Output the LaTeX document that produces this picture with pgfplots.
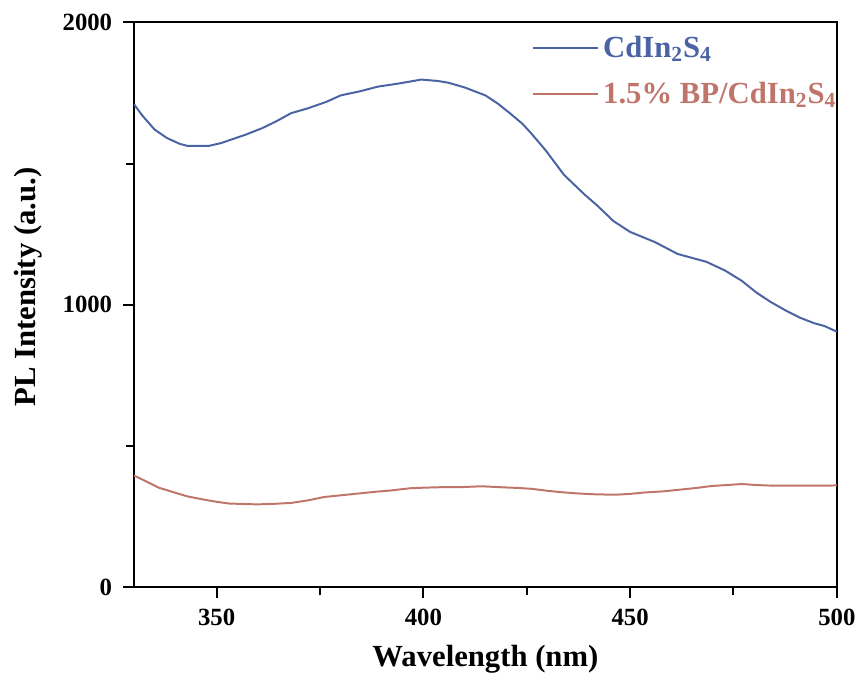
\documentclass[border=0pt]{standalone}
\usepackage{fontspec}
\setmainfont{Liberation Serif}
\usepackage{pgfplots}
\pgfplotsset{compat=1.18}

\definecolor{cdblue}{RGB}{74,99,163}
\definecolor{bpred}{RGB}{192,117,106}

\begin{document}
\begin{tikzpicture}
\begin{axis}[
scale only axis,
width=355pt,
height=285.5pt,
xmin=330, xmax=500,
ymin=0, ymax=2000,
xtick={350,400,450,500},
ytick={0,1000,2000},
minor xtick={375,425,475},
minor ytick={500,1500},
tick align=outside,
xtick pos=bottom,
ytick pos=left,
major tick length=5.5pt,
minor tick length=4pt,
axis line style={line width=1pt},
every tick/.style={black, line width=1pt},
/pgf/number format/assume math mode=true,
/pgf/number format/set thousands separator={},
ticklabel style={font=\fontsize{12.5}{15}\selectfont\bfseries},
xticklabel style={yshift=-2pt},
yticklabel style={xshift=-2pt, inner ysep=7pt},
xlabel={Wavelength (nm)},
ylabel={PL Intensity (a.u.)},
label style={font=\fontsize{15.5}{19}\selectfont\bfseries},
xlabel style={yshift=-3pt},
ylabel style={inner ysep=7pt, yshift=0pt, xshift=9pt},
legend cell align=left,
legend style={draw=none, fill=none, at={(1.005,0.99)}, anchor=north east,
  inner xsep=0pt, outer xsep=0pt,
  font=\fontsize{15.5}{18}\selectfont\bfseries, row sep=7pt},
legend image code/.code={\draw[#1] (0cm,0cm) -- (1.15cm,0cm);},
]

% CdIn2S4
\addplot[cdblue, line width=1pt] coordinates {
(330,1710) (332,1670) (335,1620) (338,1590) (341,1570) (343,1562)
(348,1562) (351,1572) (354,1587) (357,1602) (361,1625) (364.5,1650)
(368,1678) (372,1695) (376.5,1718) (380,1741) (384.5,1755) (389,1772)
(394,1783) (399.5,1797) (403.5,1792) (406,1786) (410,1769) (415,1741)
(418,1712) (421,1677) (424,1640) (426,1608) (429.5,1548) (434,1460)
(439,1390) (442,1352) (446,1296) (450,1258) (456,1222) (461.5,1180)
(468.5,1152) (473,1121) (477,1085) (480.5,1044) (484,1010) (488,977)
(491,955) (494.5,935) (497,925) (500,905)
};

% 1.5% BP/CdIn2S4
\addplot[bpred, line width=1pt] coordinates {
(330,396) (333,375) (336,353) (340,335) (343,322) (346.5,312)
(350,303) (353,297) (357,295) (360,294) (364,296) (368,299)
(372,308) (376,320) (380,326) (384,332) (388,338) (392,343)
(396.8,351) (400,353) (404.8,355) (409,355) (414,358) (419.7,354)
(423,352) (426.2,349) (430,342) (433.4,337) (437,333) (440.7,330)
(446.3,328) (450,331) (453.5,336) (458,340) (463.3,348) (466,352)
(469.7,359) (473,362) (477,366) (480,363) (482.7,361) (486,360)
(490,360) (493,360) (496.4,360) (500,361)
};

\legend{\textcolor{cdblue}{CdIn$_\mathbf{2}$S$_\mathbf{4}$},
        \textcolor{bpred}{1.5\% BP/CdIn$_\mathbf{2}$S$_\mathbf{4}$}}
\end{axis}
\end{tikzpicture}
\end{document}
